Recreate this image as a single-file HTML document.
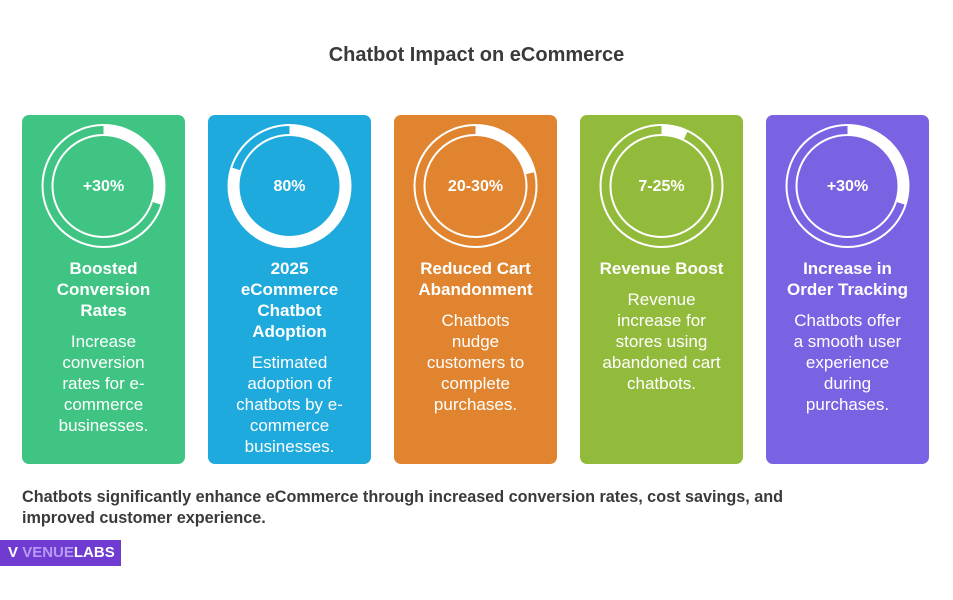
<!DOCTYPE html>
<html><head><style>
body{margin:0;width:953px;height:600px;background:#fff;font-family:"Liberation Sans",Arial,sans-serif;position:relative;overflow:hidden}
.t{position:absolute;left:0;width:953px;top:44px;text-align:center;font-weight:bold;font-size:20px;color:#3a3a3a}
.c{position:absolute;top:115px;width:163px;height:349px;border-radius:7px;color:#fff;text-align:center}
.c svg{position:absolute;left:14px;top:8px}
.p{position:absolute;top:63px;width:100%;font-weight:bold;font-size:16px}
.h{position:absolute;top:143px;left:0;right:0;font-weight:bold;font-size:17px;line-height:21px;white-space:nowrap}
.d{font-weight:normal;font-size:17px;line-height:21px;margin-top:10px}
.f{position:absolute;left:22px;top:487px;font-size:16.2px;font-weight:bold;color:#3a3a3a;line-height:21px}
.l{position:absolute;left:0;top:540px;width:121px;height:26px;background:#6f3bd0;color:#fff;font-weight:bold;font-size:15px;line-height:26px}
</style></head><body>
<div class="t">Chatbot Impact on eCommerce</div>

<div class="c" style="left:22px;background:#40c483">
<svg width="135" height="135"><circle cx="67.5" cy="63" r="61" fill="none" stroke="#fff" stroke-width="2"/><circle cx="67.5" cy="63" r="51" fill="none" stroke="#fff" stroke-width="2"/><circle cx="67.5" cy="63" r="56" fill="none" stroke="#fff" stroke-width="11" stroke-dasharray="105.5 400" transform="rotate(-90 67.5 63)"/></svg>
<div class="p">+30%</div>
<div class="h">Boosted<br>Conversion<br>Rates<div class="d">Increase<br>conversion<br>rates for e-<br>commerce<br>businesses.</div></div></div>

<div class="c" style="left:208px;background:#1eaadc">
<svg width="135" height="135"><circle cx="67.5" cy="63" r="61" fill="none" stroke="#fff" stroke-width="2"/><circle cx="67.5" cy="63" r="51" fill="none" stroke="#fff" stroke-width="2"/><circle cx="67.5" cy="63" r="56" fill="none" stroke="#fff" stroke-width="11" stroke-dasharray="281 400" transform="rotate(-90 67.5 63)"/></svg>
<div class="p">80%</div>
<div class="h">2025<br>eCommerce<br>Chatbot<br>Adoption<div class="d">Estimated<br>adoption of<br>chatbots by e-<br>commerce<br>businesses.</div></div></div>

<div class="c" style="left:394px;background:#e0842f">
<svg width="135" height="135"><circle cx="67.5" cy="63" r="61" fill="none" stroke="#fff" stroke-width="2"/><circle cx="67.5" cy="63" r="51" fill="none" stroke="#fff" stroke-width="2"/><circle cx="67.5" cy="63" r="56" fill="none" stroke="#fff" stroke-width="11" stroke-dasharray="75 400" transform="rotate(-90 67.5 63)"/></svg>
<div class="p">20-30%</div>
<div class="h">Reduced Cart<br>Abandonment<div class="d">Chatbots<br>nudge<br>customers to<br>complete<br>purchases.</div></div></div>

<div class="c" style="left:580px;background:#92bb3b">
<svg width="135" height="135"><circle cx="67.5" cy="63" r="61" fill="none" stroke="#fff" stroke-width="2"/><circle cx="67.5" cy="63" r="51" fill="none" stroke="#fff" stroke-width="2"/><circle cx="67.5" cy="63" r="56" fill="none" stroke="#fff" stroke-width="11" stroke-dasharray="25 400" transform="rotate(-90 67.5 63)"/></svg>
<div class="p">7-25%</div>
<div class="h">Revenue Boost<div class="d">Revenue<br>increase for<br>stores using<br>abandoned cart<br>chatbots.</div></div></div>

<div class="c" style="left:766px;background:#7b62e3">
<svg width="135" height="135"><circle cx="67.5" cy="63" r="61" fill="none" stroke="#fff" stroke-width="2"/><circle cx="67.5" cy="63" r="51" fill="none" stroke="#fff" stroke-width="2"/><circle cx="67.5" cy="63" r="56" fill="none" stroke="#fff" stroke-width="11" stroke-dasharray="105.5 400" transform="rotate(-90 67.5 63)"/></svg>
<div class="p">+30%</div>
<div class="h">Increase in<br>Order Tracking<div class="d">Chatbots offer<br>a smooth user<br>experience<br>during<br>purchases.</div></div></div>

<div class="f">Chatbots significantly enhance eCommerce through increased conversion rates, cost savings, and<br>improved customer experience.</div>
<div class="l"><span style="margin-left:8px">V</span> <span style="color:#b89af5">VENUE</span>LABS</div>
</body></html>
